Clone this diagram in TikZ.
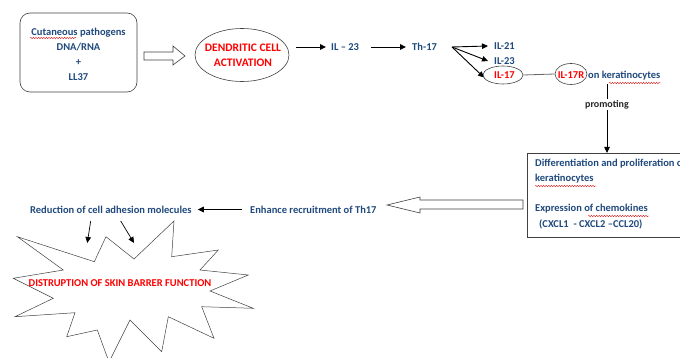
\documentclass[tikz,border=0pt]{standalone}
\usepackage{fontspec}
\setmainfont{Carlito}
\usetikzlibrary{arrows.meta,shapes.geometric,decorations.pathmorphing}
\definecolor{txtblue}{HTML}{1F497D}
\begin{document}
\begin{tikzpicture}[x=1pt,y=-1pt,
  lbl/.style={font=\bfseries\fontsize{10.5}{15}\selectfont, text=txtblue, inner sep=1pt},
  redlbl/.style={lbl, text=red},
  arr/.style={-{Triangle[length=6pt,width=5.5pt]}, line width=0.9pt},
  hollow/.style={draw=black!75, line width=0.6pt, fill=white},
  outline/.style={draw=black!75, line width=0.6pt},
  spell/.style={red!85!black, line width=0.3pt, decorate, decoration={snake, amplitude=0.8pt, segment length=2.6pt}}
]
\useasboundingbox (0,0) rectangle (680,358);
\clip (0,0) rectangle (680,358);

% source box
\node[outline, rounded corners=10pt, minimum width=117pt, minimum height=79pt] (src) at (78.5,52.5) {};
\node[lbl, align=center] (srctxt) at (78.5,54) {Cutaneous pathogens\\DNA/RNA\\+\\LL37};
\draw[spell] (30,38) -- (76,38);

% hollow arrow to DC
\draw[hollow] (144,52) -- (173,52) -- (173,46) -- (185,56) -- (173,65) -- (173,60) -- (144,60) -- cycle;

% dendritic cell ellipse
\node[outline, ellipse, minimum width=94pt, minimum height=53pt] (dc) at (242,55) {};
\node[redlbl, align=center, font=\bfseries\fontsize{11.5}{15}\selectfont] (dctxt) at (243,55) {DENDRITIC CELL\\ACTIVATION};

% chain
\node[lbl, anchor=west] (il23a) at (330,47) {IL -- 23};
\node[lbl, anchor=west] (th17) at (411,47) {Th-17};
\draw[arr] ([xshift=7pt]dc.east |- il23a.west) -- ([xshift=-4pt]il23a.west);
\draw[arr] ([xshift=11pt]il23a.east) -- ([xshift=-5pt]th17.west);

\node[lbl, anchor=west] (il21) at (493,46) {IL-21};
\node[lbl, anchor=west] (il23b) at (493,61) {IL-23};
\node[redlbl, anchor=west] (il17) at (493,75.5) {IL-17};
\coordinate (fork) at (452,47);
\draw[arr] (fork) -- ([xshift=-5pt]il21.west);
\draw[arr] (fork) -- ([xshift=-5pt]il23b.west);
\draw[arr] (fork) -- ([xshift=-9pt,yshift=-2pt]il17.west);

\node[outline, ellipse, minimum width=40pt, minimum height=18pt, inner sep=0pt] (il17e) at (503,75) {};
\node[outline, ellipse, minimum width=32pt, minimum height=21pt, inner sep=0pt] (il17re) at (571,74) {};
\node[redlbl] (il17r) at (571,75.5) {IL-17R};
\node[lbl, anchor=west] (onk) at (587,75.5) {on keratinocytes};
\draw[spell] (609,83) -- (661,83);
\draw[black!60, line width=0.8pt] (il17e.east) -- (il17re.west);

% effects box
\node[outline, anchor=north west, minimum width=170pt, minimum height=84pt] (eff) at (527,153) {};
\node[lbl, anchor=west] (eff1) at (534,163.5) {Differentiation and proliferation of};
\node[lbl, anchor=west] (eff2) at (534,179) {keratinocytes};
\node[lbl, anchor=west] (eff3) at (534,209) {Expression of chemokines};
\node[lbl, anchor=west] (eff4) at (538,224.5) {(CXCL1 \ - CXCL2 --CCL20)};
\draw[spell] (535,186) -- (596,186);
\draw[spell] (588,216) -- (649,216);

% promoting arrow
\coordinate (promtop) at (607,84);
\draw[arr, line width=0.8pt] (promtop) -- (eff.north -| promtop)
  node[pos=0.3, fill=white, inner sep=1pt, font=\bfseries\fontsize{10}{11}\selectfont, text=black!85] (prom) {promoting};

% hollow arrow left
\draw[hollow] (523,200) -- (420,200) -- (420,197) -- (387,205) -- (420,213) -- (420,209) -- (523,209) -- cycle;

\node[lbl, anchor=west] (enh) at (249,209.5) {Enhance recruitment of Th17};
\node[lbl, anchor=west] (red) at (29,209.5) {Reduction of cell adhesion molecules};
\draw[arr] ([xshift=-7pt]enh.west) -- ([xshift=5pt]red.east);

% starburst
\draw[outline, line width=0.5pt] (17.3,236.7) -- (94.3,261.7) -- (106,236.7) -- (134,259) -- (174,221) -- (171.7,256.7) -- (218.3,250) -- (200,270) -- (248.3,275) -- (210,291) -- (253.3,308.3) -- (201.7,306.7) -- (214,338.3) -- (168.3,316.7) -- (161.7,351.7) -- (130,320) -- (109,362) -- (97.3,330) -- (66.7,336.7) -- (75,312.7) -- (15,316.7) -- (53.3,298.3) -- (13.3,278.3) -- (63.3,270) -- cycle;
\node[redlbl] (disr) at (120,283) {DISTRUPTION OF SKIN BARRER FUNCTION};

\coordinate (s1) at (87.3,243);
\coordinate (s2) at (134,243);
\draw[arr, line width=0.7pt] (90.7,221) -- (s1);
\draw[arr, line width=0.7pt] (120.7,221) -- (s2);
\end{tikzpicture}
\end{document}
